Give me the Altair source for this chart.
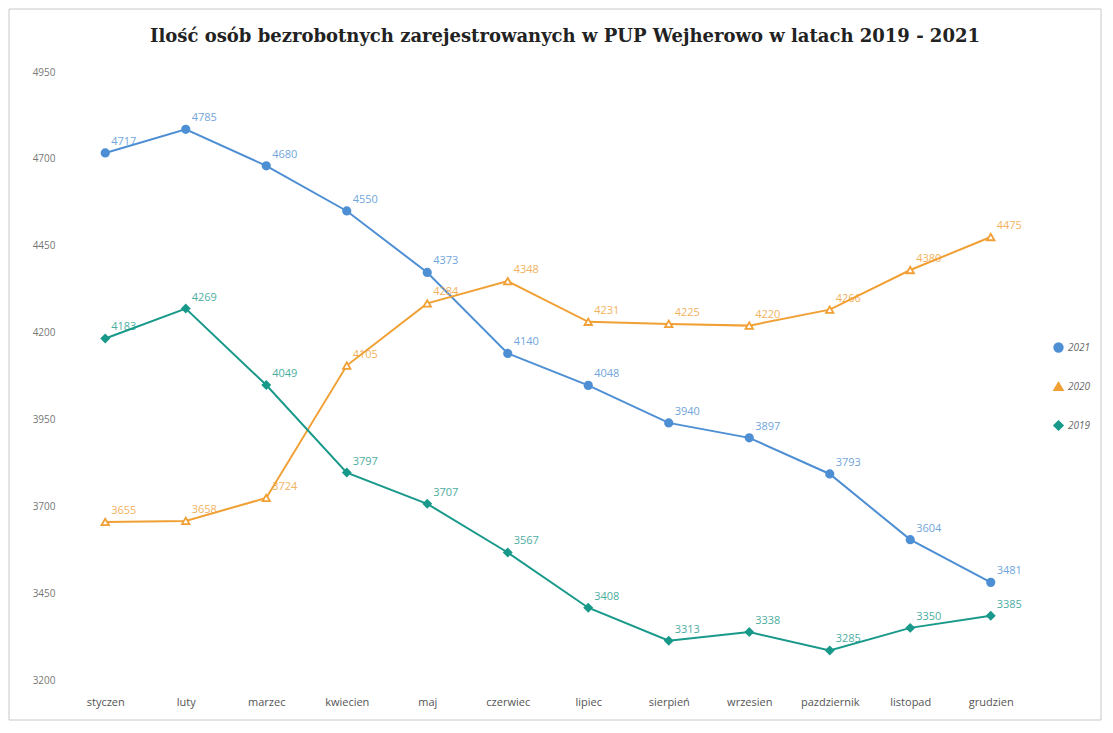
import altair as alt
import pandas as pd

title_text = "Ilość osób bezrobotnych zarejestrowanych  w PUP Wejherowo  w latach 2019 - 2021"
months = ["styczen", "luty", "marzec", "kwiecien", "maj", "czerwiec", "lipiec",
          "sierpień", "wrzesien", "pazdziernik", "listopad", "grudzien"]
years = ["2021", "2020", "2019"]
v2021 = [4717, 4785, 4680, 4550, 4373, 4140, 4048, 3940, 3897, 3793, 3604, 3481]
v2020 = [3655, 3658, 3724, 4105, 4284, 4348, 4231, 4225, 4220, 4266, 4380, 4475]
v2019 = [4183, 4269, 4049, 3797, 3707, 3567, 3408, 3313, 3338, 3285, 3350, 3385]
y_ticks = [3200, 3450, 3700, 3950, 4200, 4450, 4700, 4950]

rows = []
for yr, vals in zip(years, [v2021, v2020, v2019]):
    for m, v in zip(months, vals):
        rows.append({"miesiac": m, "rok": yr, "liczba": v})
df = pd.DataFrame(rows)

colors = ["#4e8fd4", "#f0a035", "#18998a"]
fills = ["#4e8fd4", "#ffffff", "#18998a"]
shapes = ["circle", "triangle-up", "diamond"]

W, H = 966, 608

x = alt.X("miesiac:N", sort=months,
          scale=alt.Scale(type="point", padding=0.5),
          axis=alt.Axis(title=None, domain=False, ticks=False, labelAngle=0,
                        labelPadding=16, labelFont="Open Sans", labelFontSize=11,
                        labelColor="#555555"))
y = alt.Y("liczba:Q",
          scale=alt.Scale(domain=[3200, 4950], nice=False, zero=False),
          axis=alt.Axis(title=None, values=y_ticks, domain=False, ticks=False,
                        grid=False, labelPadding=10, labelFont="Open Sans",
                        labelFontSize=10, labelColor="#777777", format="d"))
leg = alt.Legend(title=None, orient="none", legendX=988, legendY=270,
                 rowPadding=22, symbolSize=70, symbolStrokeWidth=2,
                 labelFont="Open Sans", labelFontSize=10, labelColor="#666666",
                 labelFontStyle="italic")
color = alt.Color("rok:N", sort=years, scale=alt.Scale(domain=years, range=colors), legend=leg)
fill = alt.Fill("rok:N", sort=years, scale=alt.Scale(domain=years, range=fills), legend=leg)
shape = alt.Shape("rok:N", sort=years, scale=alt.Scale(domain=years, range=shapes), legend=leg)

base = alt.Chart(df)
lines = base.mark_line(strokeWidth=2).encode(x=x, y=y, color=color, detail="rok:N")
points = base.mark_point(size=55, strokeWidth=1.8, filled=False, opacity=1).encode(
    x=x, y=y, color=color, fill=fill, shape=shape)
labels = base.mark_text(align="left", baseline="bottom", dx=6, dy=-6,
                        font="Open Sans", fontSize=11, opacity=0.8).encode(
    x=x, y=y, text=alt.Text("liczba:Q", format="d"),
    color=alt.Color("rok:N", sort=years, scale=alt.Scale(domain=years, range=colors), legend=None))

single = alt.Data(values=[{"t": title_text}])
frame = alt.Chart(single).mark_rect(
    filled=False, stroke="#c8c8c8", strokeWidth=1).encode(
    x=alt.value(-56), x2=alt.value(W + 70), y=alt.value(-63), y2=alt.value(H + 40))
title = alt.Chart(single).mark_text(
    font="DejaVu Serif", fontSize=18, fontWeight="bold", color="#222222",
    align="center", baseline="middle").encode(
    x=alt.value(W / 2 + 17), y=alt.value(-35), text="t:N")

chart = alt.layer(frame, title, lines, points, labels).properties(
    width=W, height=H,
    autosize="none",
    padding={"left": 57, "top": 64, "right": 72, "bottom": 45},
).configure_view(stroke=None)

chart.save("out.html", embed_options={"renderer": "svg", "actions": False})
